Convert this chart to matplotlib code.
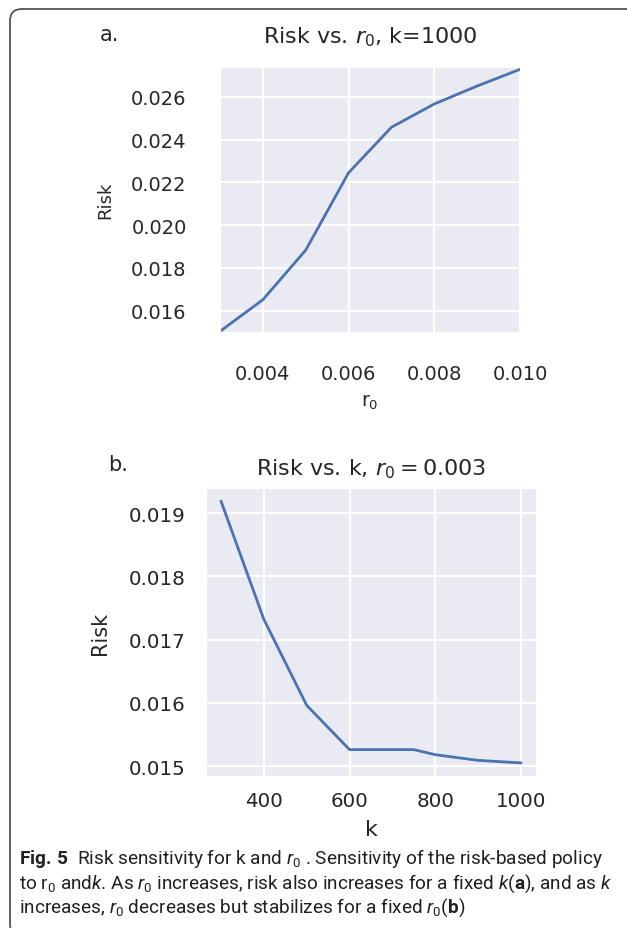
import matplotlib
matplotlib.use("Agg")
import matplotlib.pyplot as plt
import seaborn as sns
from matplotlib import font_manager
from matplotlib.patches import FancyBboxPatch
from matplotlib.ticker import FormatStrFormatter
from matplotlib.transforms import IdentityTransform

# panel a: risk vs r0 for k=1000
r0_values = [0.003, 0.004, 0.005, 0.006, 0.007, 0.008, 0.009, 0.010]
risk_vs_r0 = [0.01503, 0.01651, 0.01883, 0.02245, 0.02458, 0.02567, 0.02651, 0.02729]

# panel b: risk vs k for r0=0.003
k_values = [300, 400, 500, 600, 700, 750, 800, 900, 1000]
risk_vs_k = [0.01919, 0.01732, 0.01596, 0.01526, 0.01526, 0.01526, 0.01518, 0.01509, 0.01505]

r0_ticks = [0.004, 0.006, 0.008, 0.010]
risk_ticks_a = [0.016, 0.018, 0.020, 0.022, 0.024, 0.026]
k_ticks = [400, 600, 800, 1000]
risk_ticks_b = [0.015, 0.016, 0.017, 0.018, 0.019]

caption_lines = [
    r"$\mathbf{Fig.\,5}$  Risk sensitivity for k and $r_0$ . Sensitivity of the risk-based policy",
    r"to $\mathrm{r}_0$ and$k$. As $r_0$ increases, risk also increases for a fixed $k$($\mathbf{a}$), and as $k$",
    r"increases, $r_0$ decreases but stabilizes for a fixed $r_0$($\mathbf{b}$)",
]

sns.set_style("darkgrid")
plt.rcParams['font.family'] = ['DejaVu Sans']
plt.rcParams['grid.linewidth'] = 1.5

# caption font (narrow, like the journal's Myriad)
names = {f.name for f in font_manager.fontManager.ttflist}
cap_font = 'Liberation Sans Narrow' if 'Liberation Sans Narrow' in names else 'Roboto'
plt.rcParams['mathtext.fontset'] = 'custom'
plt.rcParams['mathtext.rm'] = cap_font
plt.rcParams['mathtext.it'] = cap_font + ':italic'
plt.rcParams['mathtext.bf'] = cap_font + ':bold'

W, H = 627, 929
fig = plt.figure(figsize=(W / 100, H / 100), dpi=100)
fig.patch.set_facecolor('white')


def px_axes(left, top, right, bottom):
    return fig.add_axes([left / W, 1 - bottom / H, (right - left) / W, (bottom - top) / H])


line_color = '#4C72B0'
txt = '.15'

## Panel a
ax_a = px_axes(220, 68, 520, 333)
ax_a.plot(r0_values, risk_vs_r0, color=line_color, lw=2)
ax_a.set_xlim(0.003, 0.010)
ax_a.set_ylim(0.0150, 0.0274)
ax_a.set_xticks(r0_ticks)
ax_a.set_yticks(risk_ticks_a)
ax_a.xaxis.set_major_formatter(FormatStrFormatter('%.3f'))
ax_a.yaxis.set_major_formatter(FormatStrFormatter('%.3f'))
ax_a.tick_params(axis='x', length=0, pad=23, labelsize=14, labelcolor=txt)
ax_a.tick_params(axis='y', length=0, pad=24, labelsize=14, labelcolor=txt)
ax_a.set_title(r'Risk vs. $r_0$, k=1000', fontsize=16, pad=18, color=txt,
               math_fontfamily='dejavusans')
ax_a.set_xlabel(r'r$_0$', fontsize=13.5, color=txt, math_fontfamily='dejavusans')
ax_a.set_ylabel('Risk', fontsize=13, color=txt)
ax_a.xaxis.set_label_coords(0.5, -0.228)
ax_a.yaxis.set_label_coords(-0.353, 0.5)

## Panel b
ax_b = px_axes(206, 489, 536, 777)
ax_b.plot(k_values, risk_vs_k, color=line_color, lw=2)
ax_b.set_xticks(k_ticks)
ax_b.set_yticks(risk_ticks_b)
ax_b.yaxis.set_major_formatter(FormatStrFormatter('%.3f'))
ax_b.tick_params(axis='x', length=0, pad=11, labelsize=14.3, labelcolor=txt)
ax_b.tick_params(axis='y', length=0, pad=15, labelsize=14.3, labelcolor=txt)
ax_b.set_title(r'Risk vs. k, $r_0 = 0.003$', fontsize=16, pad=10, color=txt,
               math_fontfamily='dejavusans')
ax_b.set_xlabel('k', fontsize=16, color=txt)
ax_b.set_ylabel('Risk', fontsize=15, color=txt)
ax_b.xaxis.set_label_coords(0.5, -0.149)
ax_b.yaxis.set_label_coords(-0.29, 0.5)

fig.text(100 / W, 1 - 35 / H, 'a.', fontsize=15, va='center', color=txt)
fig.text(108 / W, 1 - 465 / H, 'b.', fontsize=15, va='center', color=txt)

# caption
for i, line in enumerate(caption_lines):
    fig.text(19 / W, 1 - (864 + 24.5 * i) / H, line, family=cap_font, fontsize=13.7,
             va='baseline', ha='left', color='#231f20')

# rounded frame around the figure (partly cut off at right/bottom)
frame = FancyBboxPatch((10, -8), 650, H - 10 + 8, boxstyle='round,pad=0,rounding_size=12',
                       transform=IdentityTransform(), fill=False, ec='#555555', lw=1.3)
fig.add_artist(frame)

fig.savefig('out.png', dpi=100)
